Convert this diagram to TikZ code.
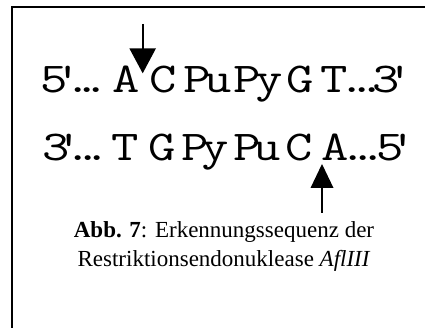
\documentclass[tikz,border=0pt]{standalone}
\usepackage{fontspec}
\setmainfont{Liberation Serif}
\newfontfamily\seqfont[Ligatures=TeXOff,FakeStretch=1.25]{Latin Modern Mono}
\begin{document}
\begin{tikzpicture}[x=1pt,y=-1pt,
  glyph/.style={inner sep=0pt,anchor=base,font=\seqfont\fontsize{42.5}{42.5}\selectfont},
  cutmark/.style={fill=black,draw=none},
  cutline/.style={line width=2pt},
  frameline/.style={line width=2pt},
  caption/.style={align=center,inner sep=0pt,anchor=base,
    font=\fontsize{23}{29}\selectfont}]
\useasboundingbox (0,0) rectangle (425,328);

% open frame: left and top edges
\draw[frameline] (12,330) -- (12,7) -- (427,7);

% upper strand 5' ... 3'
\foreach \x/\t/\n in {54/5/ua,68/'/ub,78/./uc,87/./ud,96/./ue,
    126/A/uA,163.5/C/uC,197.5/P/uP1,218/u/uu1,247.5/P/uP2,269/y/uy2,
    300/G/uG,334/T/uT,352/./uf,362/./ug,372/./uh,386.5/3/ui,400.5/'/uj}
  \node[glyph] (\n) at (\x,93) {\t};

% lower strand 3' ... 5'
\foreach \x/\t/\n in {56.5/3/la,69/'/lb,78/./lc,88/./ld,97/./le,
    125/T/lT,162.5/G/lG,195/P/lP1,215/y/ly1,247/P/lP2,267/u/lu2,
    299/C/lC,335.5/A/lA,353/./lf,363/./lg,373/./lh,390/5/li,403.5/'/lj}
  \node[glyph] (\n) at (\x,161) {\t};

% cleavage site on the upper strand
\coordinate (topstart) at (142.7,24);
\coordinate (toptip) at (142.7,73.3);
\draw[cutline] (topstart) -- (142.7,49);
\fill[cutmark] (129.3,48.3) -- (156,48.3) -- (toptip) -- cycle;

% cleavage site on the lower strand
\coordinate (botstart) at (322,213);
\coordinate (bottip) at (322,164);
\draw[cutline] (botstart) -- (322,187);
\fill[cutmark] (310.5,188) -- (333.5,188) -- (bottip) -- cycle;

% caption (base anchor sits on the last line)
\node[caption] (cap) at (224,267)
  {\textbf{Abb. 7}: Erkennungssequenz der\\Restriktionsendonuklease \textit{AflIII}};
\end{tikzpicture}
\end{document}
